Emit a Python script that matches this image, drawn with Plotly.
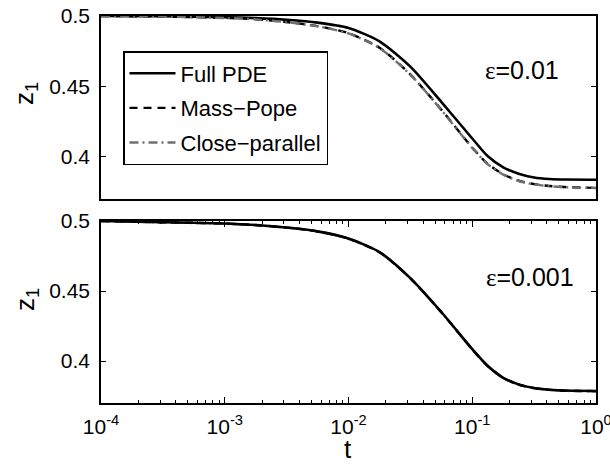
import plotly.graph_objects as go

# time points (log-spaced readings, t from 1e-4 to 1)
t = [1e-4, 3.16e-4, 1e-3, 1.78e-3, 3.16e-3, 5.62e-3, 1e-2, 1.78e-2, 3.16e-2,
     5.62e-2, 0.1, 0.133, 0.178, 0.237, 0.316, 0.422, 0.562, 1.0]

# top panel, eps = 0.01
top_full = [0.5000, 0.4998, 0.4992, 0.4985, 0.4973, 0.4953, 0.4915, 0.4820, 0.4640,
            0.4390, 0.4130, 0.4005, 0.3925, 0.3880, 0.3853, 0.3842, 0.3838, 0.3837]
top_mp = [0.5000, 0.4996, 0.4987, 0.4977, 0.4957, 0.4928, 0.4878, 0.4775, 0.4585,
          0.4335, 0.4065, 0.3950, 0.3875, 0.3830, 0.3806, 0.3792, 0.3785, 0.3779]
top_cp = [0.5000, 0.4996, 0.4986, 0.4976, 0.4956, 0.4927, 0.4876, 0.4773, 0.4583,
          0.4333, 0.4063, 0.3948, 0.3873, 0.3828, 0.3804, 0.3791, 0.3784, 0.3778]

# bottom panel, eps = 0.001
bot_full = [0.5000, 0.4991, 0.4982, 0.4971, 0.4953, 0.4926, 0.4875, 0.4778, 0.4592,
            0.4350, 0.4085, 0.3966, 0.3880, 0.3833, 0.3807, 0.3795, 0.3789, 0.3786]
bot_mp = [0.5000, 0.4991, 0.4982, 0.4971, 0.4953, 0.4926, 0.4874, 0.4777, 0.4591,
          0.4349, 0.4084, 0.3965, 0.3879, 0.3832, 0.3806, 0.3794, 0.3788, 0.3785]
bot_cp = [0.5000, 0.4990, 0.4981, 0.4970, 0.4952, 0.4925, 0.4873, 0.4776, 0.4590,
          0.4348, 0.4083, 0.3964, 0.3878, 0.3831, 0.3805, 0.3793, 0.3787, 0.3784]

series_names = ["Full PDE", "Mass\u2212Pope", "Close\u2212parallel"]
x_tickvals = [1e-4, 1e-3, 1e-2, 1e-1, 1]
x_ticktext = ["10<sup>-4</sup>", "10<sup>-3</sup>", "10<sup>-2</sup>", "10<sup>-1</sup>", "10<sup>0</sup>"]
y_tickvals = [0.4, 0.45, 0.5]
y_ticktext = ["0.4", "0.45", "0.5"]
eps_values = ["0.01", "0.001"]

FONT = "Liberation Sans"
W, H = 610, 466


def px_x(x):
    return x / W


def px_y(y):
    return 1 - y / H


styles = [
    dict(color="black", width=2.6, dash="solid"),
    dict(color="black", width=2.4, dash="8px,6px"),
    dict(color="#707070", width=2.4, dash="9px,4px,2px,4px"),
]

fig = go.Figure()
for i, (ys, name) in enumerate(zip([top_full, top_mp, top_cp], series_names)):
    fig.add_trace(go.Scatter(x=t, y=ys, mode="lines", name=name,
                             line=dict(**styles[i], shape="spline", smoothing=0.7),
                             xaxis="x", yaxis="y", legendgroup=str(i), showlegend=True))
# bottom: draw so that the solid curve lies on top
for i in [2, 1, 0]:
    ys = [bot_full, bot_mp, bot_cp][i]
    fig.add_trace(go.Scatter(x=t, y=ys, mode="lines", name=series_names[i],
                             line=dict(**styles[i], shape="spline", smoothing=0.7),
                             xaxis="x2", yaxis="y2", showlegend=False))

xdom = [px_x(101), px_x(596)]
ytop = [px_y(199), px_y(16)]
ybot = [px_y(403), px_y(221)]

minor_vals = [k * 10 ** e for e in range(-4, 0) for k in range(2, 10)]

axis_common = dict(showline=True, linecolor="black", linewidth=1.6, mirror=True,
                   showgrid=False, zeroline=False, automargin=False)

yaxis_common = dict(axis_common, range=[0.37, 0.5], tickmode="array", tickvals=y_tickvals,
                    ticktext=y_ticktext, ticks="inside", ticklen=5, tickwidth=1.2, tickcolor="black",
                    tickfont=dict(family=FONT, size=21, color="black"), mirror="ticks",
                    ticklabelstandoff=5, ticklabeloverflow="allow")

fig.update_layout(
    width=W, height=H, margin=dict(l=0, r=0, t=0, b=0, autoexpand=False),
    paper_bgcolor="white", plot_bgcolor="white",
    showlegend=True,
    xaxis=dict(axis_common, type="log", range=[-4, 0], domain=xdom, anchor="y",
               showticklabels=False, ticks=""),
    yaxis=dict(yaxis_common, domain=ytop, anchor="x"),
    xaxis2=dict(axis_common, type="log", range=[-4, 0], domain=xdom, anchor="y2",
                tickmode="array", tickvals=x_tickvals, ticktext=x_ticktext,
                ticks="inside", ticklen=6, tickwidth=1.2, tickcolor="black", mirror="ticks",
                minor=dict(tickmode="array", tickvals=minor_vals, ticks="inside", ticklen=3,
                           tickwidth=1, tickcolor="black", showgrid=False),
                tickfont=dict(family=FONT, size=21, color="black"), ticklabelstandoff=4,
                ticklabeloverflow="allow"),
    yaxis2=dict(yaxis_common, domain=ybot, anchor="x2"),
    legend=dict(x=px_x(123), y=px_y(51), xanchor="left", yanchor="top",
                bgcolor="white", bordercolor="black", borderwidth=1.5,
                font=dict(family=FONT, size=22, color="black"),
                tracegroupgap=3, traceorder="grouped", itemwidth=46),
    annotations=[
        dict(text="<span style='font-family:Liberation Serif'>\u03b5</span>=" + eps_values[0],
             x=px_x(561), y=px_y(70), xref="paper", yref="paper",
             xanchor="right", yanchor="middle", showarrow=False,
             font=dict(family=FONT, size=25, color="black")),
        dict(text="<span style='font-family:Liberation Serif'>\u03b5</span>=" + eps_values[1],
             x=px_x(576), y=px_y(277), xref="paper", yref="paper",
             xanchor="right", yanchor="middle", showarrow=False,
             font=dict(family=FONT, size=25, color="black")),
        dict(text="z<sub>1</sub>", x=px_x(26), y=px_y(94), xref="paper", yref="paper",
             xanchor="center", yanchor="middle", textangle=-90, showarrow=False,
             font=dict(family=FONT, size=26, color="black")),
        dict(text="z<sub>1</sub>", x=px_x(26), y=px_y(300), xref="paper", yref="paper",
             xanchor="center", yanchor="middle", textangle=-90, showarrow=False,
             font=dict(family=FONT, size=26, color="black")),
        dict(text="t", x=px_x(348), y=px_y(466), xref="paper", yref="paper",
             xanchor="center", yanchor="bottom", showarrow=False,
             font=dict(family=FONT, size=26, color="black")),
    ],
)

# remove the page's default 8px body margin so the figure fills the window exactly
fig.write_html("out.html",
               config={"displayModeBar": False},
               post_script="document.body.style.margin='0';document.body.style.overflow='hidden';")
